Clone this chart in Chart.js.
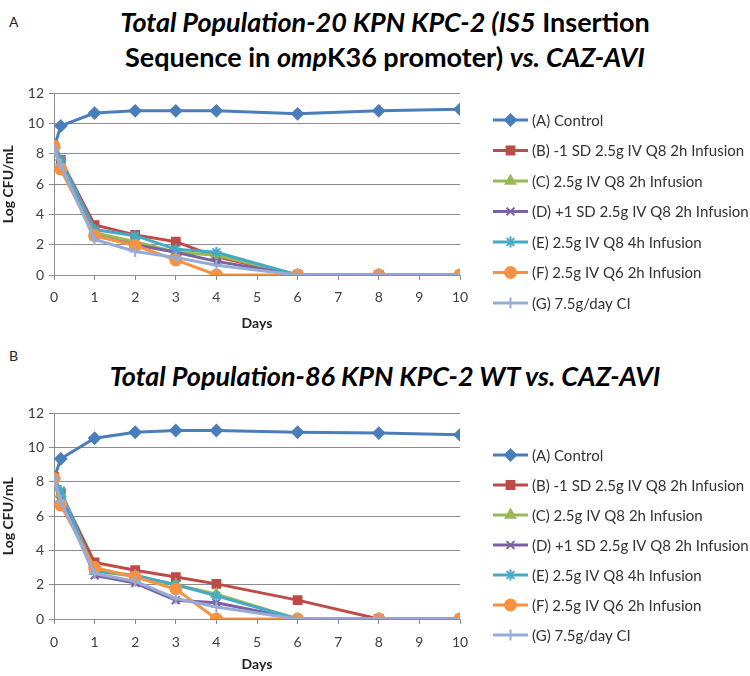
<!DOCTYPE html>
<html>
<head>
<meta charset="utf-8">
<script src="https://cdn.jsdelivr.net/npm/chart.js"></script>
<style>
  body { margin: 0; background: #fff; font-family: Lato, "Open Sans", sans-serif; }
  #page { position: relative; width: 750px; height: 676px; overflow: hidden; }
  .tag { position: absolute; left: 9px; font-size: 14px; color: #222; }
  .title { position: absolute; left: 20px; width: 730px; text-align: center; font-weight: bold;
           font-size: 27px; line-height: 35px; color: #000; }
  .box { position: absolute; left: 0; width: 750px; }
</style>
</head>
<body>
<div id="page">
  <div class="tag" style="top:13px">A</div>
  <div class="title" style="top:4px"><i>Total Population-20 KPN KPC-2 (IS5</i> Insertion<br>Sequence in <i>omp</i>K36 promoter) <i>vs. CAZ-AVI</i></div>
  <div class="box" style="top:80px;height:255px"><canvas id="chartA"></canvas></div>

  <div class="tag" style="top:347px">B</div>
  <div class="title" style="top:358px"><i>Total Population-86 KPN KPC-2 WT vs. CAZ-AVI</i></div>
  <div class="box" style="top:400px;height:276px"><canvas id="chartB"></canvas></div>
</div>

<script>
// sampling times (days) and axis ticks
const days = [0, 0.167, 1, 2, 3, 4, 6, 8, 10];
const dayTicks = [0, 1, 2, 3, 4, 5, 6, 7, 8, 9, 10];
const logTicks = [0, 2, 4, 6, 8, 10, 12];

const seriesNames = [
  "(A) Control",
  "(B) -1 SD 2.5g IV Q8 2h Infusion",
  "(C) 2.5g IV Q8 2h Infusion",
  "(D) +1 SD 2.5g IV Q8 2h Infusion",
  "(E) 2.5g IV Q8 4h Infusion",
  "(F) 2.5g IV Q6 2h Infusion",
  "(G) 7.5g/day CI",
];

// Panel A: KPN KPC-2 20 (IS5 in ompK36 promoter)
const popA_control = [8.4, 9.85, 10.7, 10.85, 10.85, 10.85, 10.65, 10.85, 10.95];
const popA_minus1SD = [8.5, 7.6, 3.3, 2.65, 2.2, 1.2, 0, 0, 0];
const popA_q8_2h = [8.3, 7.2, 2.8, 2.2, 1.5, 1.3, 0, 0, 0];
const popA_plus1SD = [8.4, 7.5, 2.6, 2.0, 1.5, 0.9, 0, 0, 0];
const popA_q8_4h = [8.3, 7.6, 3.0, 2.6, 1.7, 1.5, 0, 0, 0];
const popA_q6_2h = [8.5, 7.0, 2.6, 1.95, 1.0, 0, 0, 0, 0];
const popA_ci = [8.3, 7.3, 2.35, 1.55, 1.15, 0.65, 0, 0, 0];

// Panel B: KPN KPC-2 86 WT
const popB_control = [8.2, 9.35, 10.55, 10.9, 11.0, 11.0, 10.9, 10.85, 10.75];
const popB_minus1SD = [8.3, 7.35, 3.3, 2.85, 2.45, 2.05, 1.1, 0, 0];
const popB_q8_2h = [8.2, 7.3, 2.8, 2.5, 2.0, 1.45, 0, 0, 0];
const popB_plus1SD = [8.2, 7.2, 2.55, 2.1, 1.1, 0.95, 0, 0, 0];
const popB_q8_4h = [8.2, 7.5, 2.8, 2.55, 2.0, 1.35, 0, 0, 0];
const popB_q6_2h = [8.2, 6.65, 3.0, 2.45, 1.75, 0, 0, 0, 0];
const popB_ci = [8.2, 6.9, 2.65, 2.2, 1.2, 0.7, 0, 0, 0];

const colores = ["#4A7EBB", "#BE4B48", "#98B954", "#7D60A0", "#46AAC5", "#F69240", "#96ACD6"];
const marcadores = ["rectRot", "rect", "triangle", "crossRot", "star", "circle", "cross"];

Chart.defaults.font.family = "Lato, 'Open Sans', sans-serif";

// leyenda a la derecha: línea con marcador + texto
const sideLegend = {
  id: "sideLegend",
  afterDraw(chart, args, opts) {
    const ctx = chart.ctx;
    ctx.save();
    chart.data.datasets.forEach((ds, i) => {
      const y = opts.top + i * opts.gap;
      ctx.strokeStyle = ds.borderColor;
      ctx.fillStyle = ds.borderColor;
      ctx.lineWidth = 3;
      ctx.beginPath();
      ctx.moveTo(opts.left, y);
      ctx.lineTo(opts.left + 35, y);
      ctx.stroke();
      ctx.lineWidth = 2;
      Chart.helpers.drawPoint(ctx, { pointStyle: ds.pointStyle, radius: 5.5, borderWidth: 2, rotation: 0 }, opts.left + 17.5, y);
      ctx.fillStyle = "#333";
      ctx.font = "15px Lato, 'Open Sans', sans-serif";
      ctx.textBaseline = "middle";
      ctx.fillText(ds.label, opts.left + 39, y + 1);
    });
    ctx.restore();
  },
};

function makeChart(id, series, cfg) {
  const datasets = series.map((vals, i) => ({
    label: seriesNames[i],
    data: days.map((d, j) => ({ x: d, y: vals[j] })),
    borderColor: colores[i],
    backgroundColor: colores[i],
    pointStyle: marcadores[i],
    pointRadius: 5.5,
    pointBorderWidth: 2,
    borderWidth: 3,
    tension: 0,
    order: series.length - i,
  }));

  return new Chart(document.getElementById(id), {
    type: "line",
    data: { datasets },
    plugins: [sideLegend],
    options: {
      responsive: true,
      maintainAspectRatio: false,
      animation: false,
      layout: { padding: { top: cfg.top, right: 290, left: 0, bottom: 0 } },
      plugins: {
        legend: { display: false },
        tooltip: { enabled: false },
        sideLegend: { left: 493, top: cfg.legendTop, gap: cfg.legendGap },
      },
      scales: {
        x: {
          type: "linear",
          min: 0,
          max: 10,
          afterBuildTicks: (s) => { s.ticks = dayTicks.map((v) => ({ value: v })); },
          afterFit: (s) => { s.height = cfg.xHeight; },
          ticks: { color: "#404040", font: { size: 14 }, padding: cfg.xPad },
          grid: { drawOnChartArea: false, tickLength: 5, color: "#8c8c8c" },
          border: { color: "#8c8c8c" },
          title: { display: true, text: "Days", color: "#222", font: { size: 14, weight: "bold" }, padding: { top: 0, bottom: 3 } },
        },
        y: {
          min: 0,
          max: 12,
          afterBuildTicks: (s) => { s.ticks = logTicks.map((v) => ({ value: v })); },
          afterFit: (s) => { s.width = 54; },
          ticks: { color: "#404040", font: { size: 14 }, padding: 5 },
          grid: { color: "#8c8c8c", tickLength: 5 },
          border: { color: "#8c8c8c" },
          title: { display: true, text: "Log CFU/mL", color: "#222", font: { size: 14, weight: "bold" }, padding: { top: 0, bottom: 1 } },
        },
      },
    },
  });
}

makeChart("chartA",
  [popA_control, popA_minus1SD, popA_q8_2h, popA_plus1SD, popA_q8_4h, popA_q6_2h, popA_ci],
  { top: 10, xHeight: 60, xPad: 9, legendTop: 40, legendGap: 30.5 });

makeChart("chartB",
  [popB_control, popB_minus1SD, popB_q8_2h, popB_plus1SD, popB_q8_4h, popB_q6_2h, popB_ci],
  { top: 12, xHeight: 57, xPad: 10, legendTop: 55, legendGap: 30 });
</script>
</body>
</html>
